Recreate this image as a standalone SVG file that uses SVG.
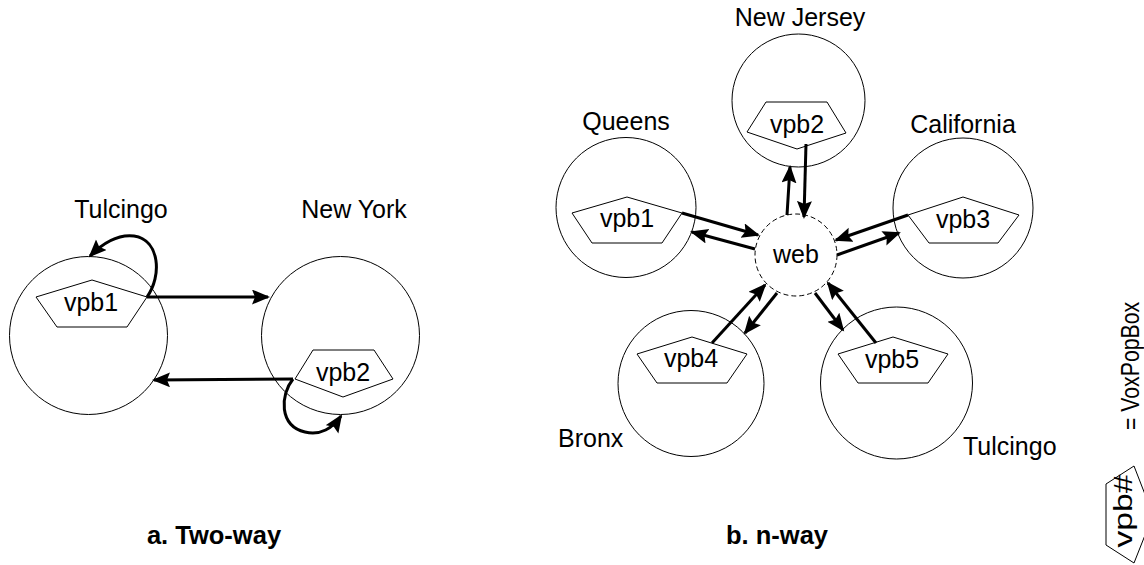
<svg xmlns="http://www.w3.org/2000/svg" width="1144" height="565" viewBox="0 0 1144 565">
  <defs>
    <marker id="head" markerUnits="userSpaceOnUse" markerWidth="20" markerHeight="16" refX="16" refY="7.5" orient="auto">
      <path d="M0,0 L18,7.5 L0,15 L3,7.5 z" fill="#000"/>
    </marker>
    <style>
      .site { fill: none; stroke: #000; stroke-width: 1; }
      .web { fill: none; stroke: #000; stroke-width: 1; stroke-dasharray: 5 3; }
      .box { fill: #fff; stroke: #000; stroke-width: 1; }
      .lbl { font-family: "Liberation Sans", Arial, sans-serif; font-size: 25px; fill: #000; }
      .mid { text-anchor: middle; }
      .cap { font-family: "Liberation Sans", Arial, sans-serif; font-size: 25.5px; font-weight: bold; fill: #000; text-anchor: middle; }
      .link { fill: none; stroke: #000; stroke-width: 3; marker-end: url(#head); }
    </style>
  </defs>
  <rect width="1144" height="565" fill="#fff"/>

  <!-- a. Two-way -->
  <g id="site-tulcingo-a">
    <circle class="site" cx="88.5" cy="335.5" r="79"/>
    <text class="lbl mid" x="121" y="218">Tulcingo</text>
  </g>
  <g id="site-newyork">
    <circle class="site" cx="340.5" cy="335.5" r="79"/>
    <text class="lbl mid" x="354" y="218">New York</text>
  </g>
  <g id="vpb1-a">
    <polygon class="box" points="92,280 147,297 127,327 57,327 36,297"/>
    <text class="lbl mid" x="91" y="311">vpb1</text>
  </g>
  <g id="vpb2-a">
    <polygon class="box" points="313,350 374,350 393,379 343,397 295,379"/>
    <text class="lbl mid" x="343" y="381">vpb2</text>
  </g>

  <!-- b. n-way -->
  <g id="site-newjersey">
    <circle class="site" cx="798.5" cy="100.5" r="66.5"/>
    <text class="lbl mid" x="800" y="26">New Jersey</text>
  </g>
  <g id="site-queens">
    <circle class="site" cx="626" cy="207.5" r="70"/>
    <text class="lbl mid" x="626" y="130">Queens</text>
  </g>
  <g id="site-california">
    <circle class="site" cx="963" cy="208" r="70"/>
    <text class="lbl mid" x="963" y="133">California</text>
  </g>
  <g id="site-bronx">
    <circle class="site" cx="691" cy="383.5" r="73"/>
    <text class="lbl" x="558" y="447">Bronx</text>
  </g>
  <g id="site-tulcingo-b">
    <circle class="site" cx="896.5" cy="383" r="76"/>
    <text class="lbl" x="963" y="455">Tulcingo</text>
  </g>
  <g id="web">
    <circle class="web" cx="796" cy="255" r="41"/>
    <text class="lbl mid" x="796" y="263">web</text>
  </g>
  <g id="vpb1-b">
    <polygon class="box" points="627,197 682,213 662,243 592,243 572,213"/>
    <text class="lbl mid" x="627" y="227">vpb1</text>
  </g>
  <g id="vpb2-b">
    <polygon class="box" points="766,102 827,102 846,133 797,149 747,132"/>
    <text class="lbl mid" x="797" y="133">vpb2</text>
  </g>
  <g id="vpb3-b">
    <polygon class="box" points="963,197 1019,215 998,243 929,243 908,215"/>
    <text class="lbl mid" x="963" y="228">vpb3</text>
  </g>
  <g id="vpb4-b">
    <polygon class="box" points="692,337 747,354 727,383 657,383 637,354"/>
    <text class="lbl mid" x="691" y="367">vpb4</text>
  </g>
  <g id="vpb5-b">
    <polygon class="box" points="893,337 948,354 928,383 858,383 838,354"/>
    <text class="lbl mid" x="892" y="368">vpb5</text>
  </g>

  <!-- connectors -->
  <g id="connectors">
    <path class="link" d="M147,297 L268,297"/>
    <path class="link" d="M293,379 L154,380"/>
    <path class="link" d="M147,297 C162,276 160,240 134,236 C118,234 102,244 90,256"/>
    <path class="link" d="M293,379 C280,395 279,426 305,432 C320,436 333,428 341,416"/>

    <path class="link" d="M806,144 L804,217"/>
    <path class="link" d="M787,215 L790,167"/>
    <path class="link" d="M682,213 L758,235"/>
    <path class="link" d="M755,249 L692,232"/>
    <path class="link" d="M908,215 L836,240"/>
    <path class="link" d="M837,255 L899,233"/>
    <path class="link" d="M712,343 L765,285"/>
    <path class="link" d="M777,293 L745,333"/>
    <path class="link" d="M876,343 L828,283"/>
    <path class="link" d="M815,293 L843,330"/>
  </g>

  <!-- captions -->
  <text class="cap" x="214" y="544">a. Two-way</text>
  <text class="cap" x="777" y="544">b. n-way</text>

  <!-- key, set sideways -->
  <g id="legend">
    <polygon class="box" points="1106,545 1106,484 1134,466 1153,515 1134,563"/>
    <text class="lbl mid" transform="translate(1132,511) rotate(-90) scale(1.35,1)">vpb#</text>
    <text class="lbl" transform="translate(1139,430) rotate(-90) scale(0.85,1)">= VoxPopBox</text>
  </g>
</svg>
